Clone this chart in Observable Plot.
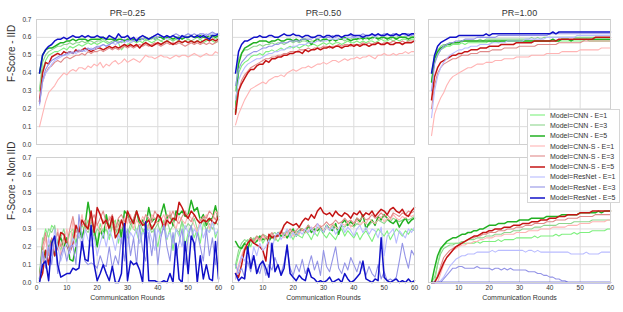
<!DOCTYPE html>
<html><head><meta charset="utf-8">
<script src="https://cdn.jsdelivr.net/npm/d3@7"></script>
<script src="https://cdn.jsdelivr.net/npm/@observablehq/plot@0.6"></script>
<style>
body{margin:0;background:#fff;font-family:"Liberation Sans",Arial,sans-serif;}
#wrap{position:relative;width:623px;height:312px;overflow:hidden;}
#legend{position:absolute;left:527px;top:109px;width:93px;height:94px;background:#fff;border:1px solid #d6d6d6;box-sizing:border-box;font-size:7px;color:#333;padding-top:0px;}
.row{display:flex;align-items:center;height:10.3px;white-space:nowrap;}
.sw{width:15px;margin-left:2px;margin-right:5px;}
</style></head><body>
<div id="wrap"><div id="chart"></div><div id="legend"></div></div>
<script>
const prLevels = ["0.25", "0.50", "1.00"];
const settings = ["IID", "Non IID"];
const yLabels = ["F-Score - IID", "F-Score - Non IID"];
const xLabel = "Communication Rounds";
const seriesNames = ["Model=CNN - E=1","Model=CNN - E=3","Model=CNN - E=5","Model=CNN-S - E=1","Model=CNN-S - E=3","Model=CNN-S - E=5","Model=ResNet - E=1","Model=ResNet - E=3","Model=ResNet - E=5"];
const xTicks = [0, 10, 20, 30, 40, 50, 60];
const yTicks = [0, 0.1, 0.2, 0.3, 0.4, 0.5, 0.6, 0.7];

// F-score x100, rounds 1..60, series in seriesNames order
const iid_pr025 = [
"30 42 47 50 51 52 52 53 54 53, 55 54 55 56 55 56 57 56 57 56, 57 58 57 56 57 58 57 53 55 56, 57 58 57 58 57 59 58 57 58 59, 58 57 58 59 58 59 58 57 58 59, 58 57 58 59 57 58 59 58 57 58",
"31 46 50 52 53 54 55 55 56 56, 57 56 57 57 58 57 58 58 57 58, 58 59 58 57 58 59 58 57 58 59, 58 59 58 59 59 58 59 59 60 59, 58 59 60 59 58 59 60 59 60 59, 58 59 60 59 60 59 60 60 59 60",
"40 50 53 54 54 55 56 57 57 58, 58 59 58 59 59 59 58 59 59 59, 59 60 59 59 59 58 59 59 58 59, 59 59 58 59 59 60 59 60 59 60, 60 59 60 60 59 60 60 59 60 60, 61 60 60 61 60 60 61 61 60 61",
"10 17 24 29 31 33 36 38 40 39, 41 42 41 43 43 42 44 43 45 44, 46 43 45 44 46 47 45 46 48 46, 47 48 47 46 48 50 49 49 48 49, 50 49 49 48 49 50 49 50 50 49, 50 51 50 49 50 51 50 50 52 51",
"23 35 40 43 44 46 47 46 48 49, 48 49 50 50 51 50 52 51 52 52, 53 52 53 54 53 54 53 54 55 54, 55 54 55 56 55 56 55 56 57 56, 55 56 57 56 57 56 57 56 55 56, 57 56 57 56 57 56 57 56 57 58",
"24 40 46 45 49 50 51 50 52 51, 52 51 53 52 53 54 53 52 53 54, 54 53 54 55 54 55 54 55 56 55, 56 55 56 54 56 57 56 55 56 57, 56 57 58 57 56 57 58 57 58 57, 58 57 58 57 58 59 58 59 58 59",
"22 35 40 42 45 47 48 49 50 50, 51 52 51 52 53 52 53 54 53 54, 55 56 55 56 57 56 57 58 57 58, 57 58 59 58 59 60 59 60 59 60, 61 60 59 60 61 60 61 60 61 62, 61 60 61 62 61 62 61 62 62 62",
"23 36 42 45 47 48 49 50 50 51, 52 51 52 53 52 53 54 53 54 55, 55 56 55 56 57 58 57 58 59 58, 59 58 59 60 59 60 59 60 61 60, 61 60 61 60 61 62 61 60 61 62, 61 62 61 62 62 61 62 63 62 62",
"40 50 53 55 56 58 59 59 60 59, 60 61 60 60 61 60 61 60 60 61, 60 60 59 61 60 59 62 60 60 61, 59 60 58 60 61 60 59 60 61 62, 61 60 61 60 61 60 59 61 60 60, 61 60 61 60 61 60 59 61 61 62"
];
const iid_pr050 = [
"22 40 44 46 47 49 50 50 51 50, 52 52 53 52 53 54 53 54 55 54, 55 54 55 56 55 56 56 55 56 57, 56 57 56 57 57 56 57 58 57 57, 58 57 58 57 58 58 57 58 59 58, 58 59 58 59 58 59 59 58 59 59",
"30 48 51 53 53 54 55 55 56 55, 56 56 57 56 57 57 56 57 58 57, 58 57 58 58 57 58 58 59 58 58, 59 58 59 58 59 59 58 59 59 60, 59 59 60 59 60 59 60 60 59 60, 60 59 60 60 61 60 60 61 60 61",
"18 45 51 54 55 56 57 57 58 58, 58 57 58 58 59 58 58 59 59 58, 59 58 59 59 58 56 58 59 58 59, 59 58 59 58 59 59 60 59 58 59, 59 60 59 60 59 60 60 59 60 60, 59 60 60 59 60 60 60 59 60 60",
"11 17 21 25 28 31 32 33 34 35, 34 36 37 38 38 39 38 40 41 42, 41 42 43 43 44 43 44 45 45 46, 45 46 47 47 46 47 48 47 48 48, 49 48 49 49 50 49 48 50 50 51, 50 50 51 50 51 51 52 51 52 52",
"20 30 36 39 41 43 44 45 46 47, 48 48 49 49 50 50 51 51 52 52, 52 53 53 53 54 53 54 54 54 55, 55 54 55 55 56 55 56 56 55 56, 56 56 57 56 57 56 57 57 56 57, 57 57 58 57 57 58 57 58 58 58",
"17 30 34 37 40 42 42 44 45 45, 47 46 48 48 49 49 50 50 51 51, 52 52 51 53 52 53 53 54 53 54, 54 55 54 55 55 54 55 55 56 55, 56 55 56 56 55 56 56 57 56 56, 57 56 56 57 57 56 57 57 57 58",
"25 36 40 43 45 46 47 48 48 49, 50 51 51 52 52 53 53 54 54 55, 55 56 56 56 57 57 57 58 58 58, 58 59 59 59 59 60 59 60 60 60, 60 60 61 60 61 61 60 61 61 61, 61 61 62 61 61 62 61 62 62 61",
"33 42 46 48 50 51 52 52 53 54, 54 55 55 56 56 57 57 57 58 58, 58 58 59 59 59 59 60 59 60 60, 60 60 61 60 61 60 61 61 61 60, 61 61 62 61 61 62 61 62 61 62, 62 61 62 62 61 62 62 62 61 62",
"40 52 56 58 58 59 60 60 61 60, 60 61 61 60 60 61 62 61 61 62, 61 61 60 61 61 60 60 61 61 60, 61 61 60 61 61 60 61 61 62 61, 61 61 60 61 61 62 61 62 61 61, 62 61 61 62 61 62 62 61 62 62"
];
const iid_pr100 = [
"35 46 50 53 54 55 55 56 56 56, 57 56 57 57 57 57 57 57 57 58, 57 58 57 58 58 58 58 58 58 58, 58 58 58 58 58 58 58 58 58 58, 58 58 58 58 58 58 58 58 58 58, 58 59 58 58 58 58 58 58 58 58",
"40 50 53 55 56 56 57 57 57 58, 58 58 58 58 58 58 59 58 59 59, 59 59 59 59 59 59 59 59 59 59, 59 59 59 60 59 60 59 60 60 60, 60 60 60 60 60 60 60 60 60 60, 60 60 60 60 60 60 60 60 60 60",
"35 48 52 54 55 56 56 57 57 57, 58 58 58 58 58 58 58 58 58 58, 58 58 58 58 58 58 58 58 58 58, 58 58 58 58 58 58 58 58 58 58, 59 58 58 59 59 59 58 59 59 59, 59 59 59 59 59 59 59 59 59 59",
"5 17 22 26 29 33 36 38 39 40, 41 42 43 43 44 45 45 45 46 46, 46 47 47 47 48 48 48 48 49 49, 49 49 49 50 50 50 50 50 51 51, 51 51 51 52 52 52 52 52 52 53, 53 53 53 53 53 53 54 54 54 54",
"20 33 40 43 45 46 47 48 48 49, 50 50 50 51 51 51 52 52 52 52, 53 53 53 53 54 54 54 54 54 55, 55 55 55 55 55 56 56 56 56 56, 56 56 57 57 57 57 57 57 57 57, 58 58 58 58 58 58 58 58 58 58",
"25 38 43 46 47 48 49 50 50 51, 51 52 52 53 53 53 54 54 54 55, 55 55 55 56 56 56 56 56 57 57, 57 57 57 57 58 58 58 58 58 58, 58 58 59 59 59 59 59 59 59 59, 59 59 59 59 60 60 60 60 60 60",
"15 30 38 43 46 48 50 51 52 53, 53 54 54 55 55 55 56 56 56 56, 57 57 57 57 57 58 58 58 58 58, 58 59 59 59 59 59 59 59 60 60, 60 60 60 60 60 60 60 60 61 61, 61 61 61 61 61 61 61 61 61 61",
"30 45 50 53 55 56 57 57 58 58, 58 59 59 59 59 60 60 60 60 60, 60 60 61 61 61 61 61 61 61 61, 61 61 61 61 61 61 61 61 61 62, 62 62 62 62 62 62 62 62 62 62, 62 62 62 62 62 62 62 62 62 62",
"40 50 55 57 58 59 60 60 60 61, 61 61 61 61 61 61 61 61 62 61, 62 62 62 62 62 62 62 62 62 62, 62 62 62 62 62 62 62 62 62 62, 63 62 63 63 63 63 63 63 63 63, 63 63 63 63 63 63 63 63 63 63"
];
const non_pr025 = [
"3 22 30 25 32 30 22 18 25 20, 28 30 22 27 32 29 35 30 28 22, 33 28 30 24 32 35 22 30 28 25, 30 35 28 22 30 25 33 32 27 20, 30 35 24 30 18 30 26 35 20 28, 32 25 30 22 33 30 28 35 25 30",
"5 25 23 30 28 32 20 25 30 22, 18 28 30 25 26 30 28 32 25 30, 28 27 30 26 32 28 30 25 31 27, 33 30 28 34 29 30 32 28 30 33, 27 31 35 29 32 30 28 34 30 33, 31 36 30 32 35 29 33 30 34 32",
"2 20 14 20 24 15 22 25 20 25, 13 12 20 30 25 32 45 35 30 20, 30 25 38 30 35 28 35 25 40 38, 33 35 40 32 35 31 42 34 36 33, 38 44 36 38 32 40 38 40 37 38, 46 40 42 35 38 32 35 36 43 35",
"2 15 25 10 20 18 30 15 22 30, 18 35 25 30 38 28 32 36 30 33, 28 35 30 37 32 28 34 30 36 33, 38 30 35 32 37 34 30 38 36 33, 35 38 32 40 34 30 37 35 33 38, 36 32 28 36 34 38 30 35 40 38",
"3 20 28 15 25 22 28 20 25 22, 30 37 28 30 32 35 30 34 38 32, 36 40 33 35 38 30 36 38 34 37, 33 36 40 35 33 38 36 34 40 37, 35 32 38 36 40 35 33 37 40 36, 34 38 35 33 37 36 40 38 35 40",
"1 5 18 10 22 15 20 28 27 21, 17 22 32 28 35 32 30 40 28 42, 38 33 35 30 37 25 28 35 30 40, 36 33 40 35 32 33 35 30 33 38, 36 30 35 33 36 35 45 42 38 36, 40 38 35 33 35 34 36 34 33 37",
"0 18 10 25 15 30 20 12 18 22, 16 25 20 28 18 30 24 20 26 15, 22 28 20 30 25 18 27 22 32 20, 28 25 30 22 28 26 30 24 18 30, 26 32 25 28 22 30 26 20 32 28, 24 30 27 33 25 30 28 34 27 30",
"0 17 8 20 10 26 5 15 20 12, 20 21 10 38 25 12 10 11 10 8, 15 10 9 20 8 15 10 25 12 30, 15 25 10 32 18 12 28 15 30 10, 25 32 20 12 28 15 22 30 10 25, 32 18 28 20 12 30 15 25 10 28",
"0 10 12 1 22 26 10 3 4 5, 5 8 7 8 23 13 12 32 10 1, 5 10 5 1 9 0 0 5 33 1, 12 10 11 7 0 34 1 1 1 0, 0 1 0 5 0 22 2 0 23 5, 26 22 0 15 2 10 2 1 23 2"
];
const non_pr050 = [
"8 15 20 22 24 20 25 23 26 22, 25 24 27 25 23 26 28 25 27 24, 28 26 25 29 27 24 28 26 30 27, 25 28 26 24 28 30 26 29 27 25, 28 24 27 29 26 23 27 30 28 26, 29 24 27 30 28 26 29 27 30 29",
"10 18 22 24 23 25 24 26 25 27, 26 25 27 28 26 28 27 29 28 27, 29 28 30 29 28 30 29 31 30 29, 31 30 32 31 30 32 31 33 32 31, 33 32 34 33 32 34 33 35 34 33, 35 34 36 35 34 35 36 35 36 37",
"23 20 19 22 18 25 22 23 26 24, 25 23 26 24 28 26 27 25 28 30, 26 29 30 28 32 28 30 29 31 28, 32 30 29 33 27 33 35 32 34 32, 36 34 38 30 33 35 32 37 35 38, 36 34 33 35 31 34 36 33 35 36",
"3 10 15 20 22 24 22 25 23 26, 24 25 27 24 26 28 25 27 29 26, 28 27 30 28 29 31 28 30 32 29, 31 30 33 31 30 33 32 34 31 33, 35 32 34 33 36 34 33 35 37 34, 36 35 38 36 35 37 36 38 37 38",
"2 8 14 19 22 25 23 26 24 27, 25 26 28 25 27 29 27 28 30 28, 29 31 29 30 32 30 31 33 31 32, 34 32 33 35 33 34 36 34 35 33, 36 35 37 35 36 38 36 37 39 37, 38 36 39 38 37 39 38 40 39 40",
"5 3 10 18 22 24 22 21 20 18, 12 27 25 26 26 28 32 34 33 32, 33 31 34 36 35 38 36 40 42 39, 38 39 37 40 38 37 39 38 36 39, 38 40 37 39 38 40 37 39 41 40, 38 41 42 40 39 41 38 37 40 42",
"2 8 15 12 18 10 20 15 22 18, 20 24 18 26 28 24 27 30 25 28, 26 29 27 30 28 31 27 33 30 28, 32 29 31 27 30 33 28 31 29 26, 30 32 28 31 27 30 29 25 31 15, 26 28 30 22 29 27 25 30 28 31",
"10 5 8 3 12 6 15 8 5 12, 4 10 7 14 9 5 11 20 8 4, 10 6 13 5 9 15 7 12 4 18, 9 6 13 20 8 5 11 7 14 10, 6 12 8 4 9 5 3 10 2 6, 1 2 1 3 12 22 14 8 18 15",
"5 1 3 2 20 8 15 5 10 12, 8 3 22 6 10 4 8 21 5 3, 1 4 2 1 8 3 2 0 1 0, 1 3 0 1 2 0 5 2 0 1, 3 5 12 2 1 0 2 1 25 3, 1 0 1 2 0 1 0 2 0 1"
];
const non_pr100 = [
"0 0 10 18 21 22 22 22 22 22, 22 22 22 22 22 23 22 23 23 23, 23 23 24 23 24 24 24 24 25 25, 25 25 25 25 26 25 26 26 26 26, 26 27 26 27 27 27 27 28 27 28, 28 28 28 29 29 29 29 29 30 30",
"0 3 10 16 19 20 21 21 22 22, 23 23 24 24 24 25 25 25 26 26, 26 27 27 27 28 28 28 29 29 29, 30 30 30 30 31 31 31 32 32 32, 32 32 33 33 33 33 33 34 34 34, 34 34 34 35 35 35 35 35 35 35",
"0 8 15 19 21 23 24 25 25 26, 27 27 28 28 29 29 30 30 31 32, 32 32 33 33 33 34 34 34 34 35, 35 35 35 36 36 36 36 36 37 37, 37 37 37 38 38 38 38 38 38 39, 39 39 39 39 39 40 39 40 40 40",
"0 0 0 5 10 14 16 18 19 20, 21 21 22 22 23 23 24 24 25 25, 25 26 26 26 27 27 27 27 28 28, 28 28 29 29 29 29 30 30 30 30, 31 31 31 31 31 32 32 32 32 33, 33 33 33 34 34 34 34 34 35 35",
"0 0 4 9 14 16 18 19 20 21, 22 23 24 25 25 26 26 27 27 28, 28 28 29 29 29 30 30 30 31 31, 31 32 32 32 33 33 33 33 34 34, 34 35 35 35 35 36 36 36 36 37, 37 37 37 37 38 38 38 38 38 38",
"0 0 3 7 11 14 16 18 20 21, 22 23 24 25 26 26 27 28 28 29, 29 30 30 30 31 31 31 32 32 32, 33 33 33 34 34 34 35 35 35 36, 36 36 37 37 37 38 38 38 38 39, 39 39 39 40 40 40 40 40 40 40",
"0 0 0 1 3 6 9 11 13 14, 15 15 16 16 16 17 17 17 17 17, 18 17 18 18 18 18 18 18 18 18, 18 17 18 18 17 18 17 17 17 17, 17 17 17 17 17 17 16 16 16 16, 16 17 16 16 16 16 17 17 17 17",
"0 0 0 0 2 4 6 8 8 9, 9 8 8 8 8 9 8 8 8 8, 7 8 8 7 8 7 8 7 7 7, 7 7 6 6 6 5 5 4 4 3, 3 2 2 1 1 0 0 0 0 0, 0 0 0 0 0 0 0 0 0 0",
"0 0 0 0 0 0 0 0 0 0, 0 0 0 0 0 0 0 0 0 0, 0 0 0 0 0 0 0 0 0 0, 0 0 0 0 0 0 0 0 0 0, 0 0 0 0 0 0 0 0 0 0, 0 0 0 0 0 0 0 0 0 0"
];

// styles
const seriesColors = ["#7ff07f","#8fd68f","#22b022","#ffb4b4","#e08a8a","#c41414","#b9bcff","#9494e6","#1010c8"];
const seriesWidths = [1.1,1.1,1.5,1.1,1.1,1.5,1.1,1.1,1.5];

const parse = s => s.trim().split(/[\s,]+/).map(Number);
const panels = [
  {pr: prLevels[0], setting: settings[0], data: iid_pr025},
  {pr: prLevels[1], setting: settings[0], data: iid_pr050},
  {pr: prLevels[2], setting: settings[0], data: iid_pr100},
  {pr: prLevels[0], setting: settings[1], data: non_pr025},
  {pr: prLevels[1], setting: settings[1], data: non_pr050},
  {pr: prLevels[2], setting: settings[1], data: non_pr100}
];
const rows = [];
for (const p of panels) {
  p.data.forEach((s, i) => parse(s).forEach((v, j) => rows.push({series: seriesNames[i], round: j + 1, f: v / 100, pr: p.pr, setting: p.setting})));
}
const yLab = settings.map((s, i) => ({pr: prLevels[0], setting: s, t: yLabels[i]}));
const xLab = prLevels.map(p => ({pr: p, setting: settings[1], t: xLabel}));

const lines = seriesNames.map((name, i) => Plot.line(rows.filter(d => d.series === name), {
  x: "round", y: "f", fx: "pr", fy: "setting", z: d => d.pr + d.setting,
  stroke: seriesColors[i], strokeWidth: seriesWidths[i]
}));

const chart = Plot.plot({
  width: 623, height: 312,
  marginLeft: 35, marginRight: 12, marginTop: 19, marginBottom: 29,
  style: {fontFamily: "'Liberation Sans', Arial, sans-serif", fontSize: "6.5px", color: "#333", background: "#fff"},
  x: {domain: [0, 60]},
  y: {domain: [0, 0.7]},
  fx: {domain: prLevels, paddingInner: 0.071, paddingOuter: 0},
  fy: {domain: settings, paddingInner: 0.094, paddingOuter: 0, axis: null},
  marks: [
    Plot.gridX(xTicks.slice(1, -1), {stroke: "#dcdcdc", strokeOpacity: 1}),
    Plot.gridY(yTicks.slice(1, -1), {stroke: "#dcdcdc", strokeOpacity: 1}),
    ...lines,
    Plot.frame({stroke: "#d0d0d0"}),
    Plot.axisX(xTicks, {tickSize: 0, tickPadding: 3, label: null, fontSize: 6.5}),
    Plot.axisY(yTicks, {tickSize: 0, tickPadding: 5, tickFormat: d3.format(".1f"), label: null, fontSize: 6.5}),
    Plot.axisFx({anchor: "top", tickSize: 0, tickPadding: 4, tickFormat: d => "PR=" + d, label: null, fontSize: 9}),
    Plot.text(yLab, {fx: "pr", fy: "setting", text: "t", frameAnchor: "left", rotate: -90, dx: -25, fontSize: 10}),
    Plot.text(xLab, {fx: "pr", fy: "setting", text: "t", frameAnchor: "bottom", dy: 17, fontSize: 7})
  ]
});
document.getElementById("chart").appendChild(chart);

const legend = document.getElementById("legend");
seriesNames.forEach((name, i) => {
  const row = document.createElement("div");
  row.className = "row";
  row.innerHTML = `<svg class="sw" width="15" height="4"><line x1="0" x2="15" y1="2" y2="2" stroke="${seriesColors[i]}" stroke-width="${seriesWidths[i]}"/></svg><span>${name}</span>`;
  legend.appendChild(row);
});
</script>
</body></html>
